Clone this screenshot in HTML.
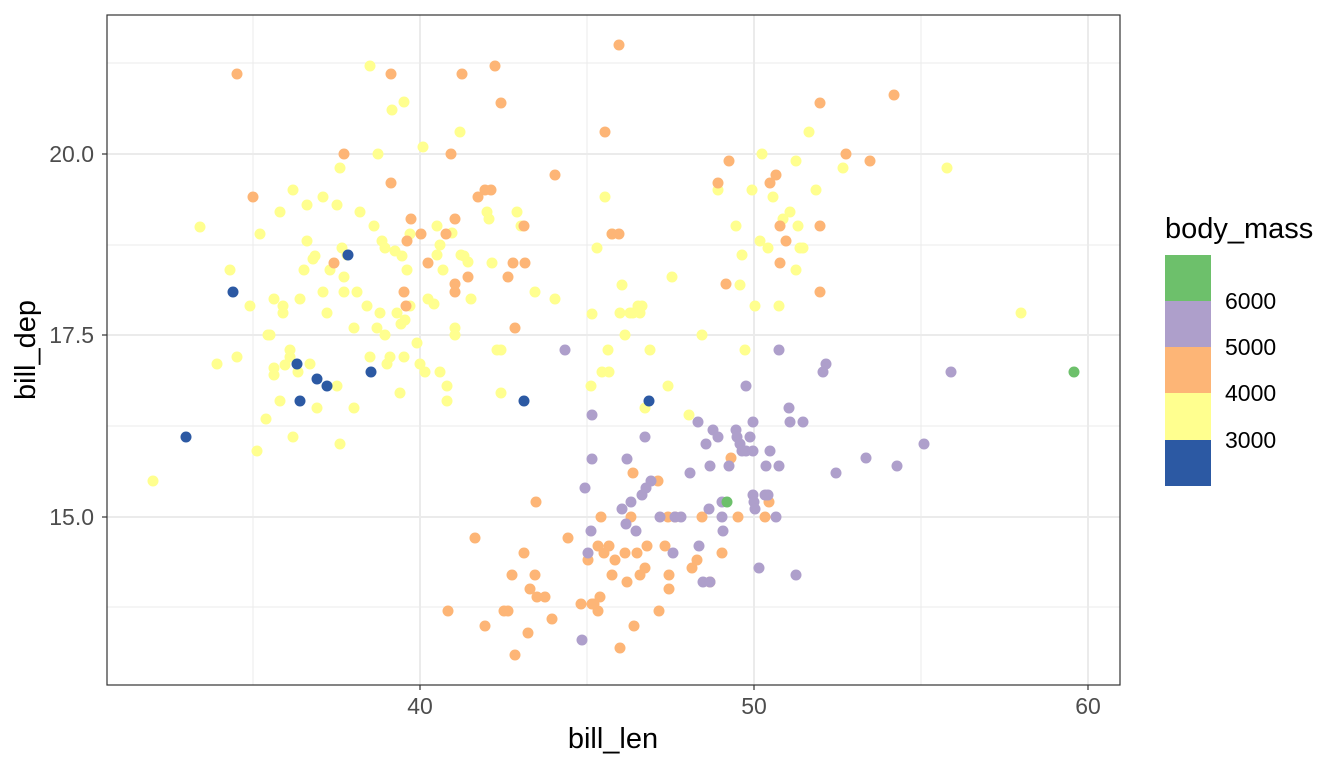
<!DOCTYPE html>
<html><head><meta charset="utf-8"><style>
html,body{margin:0;padding:0;background:#fff;width:1344px;height:768px;overflow:hidden}
text{font-family:"Liberation Sans",sans-serif}
</style></head><body>
<svg id="s" width="1344" height="768" xmlns="http://www.w3.org/2000/svg">
<rect x="0" y="0" width="1344" height="768" fill="#fff"/>
<g stroke="#EBEBEB" stroke-width="1">
<line x1="253" y1="15" x2="253" y2="685"/><line x1="587" y1="15" x2="587" y2="685"/><line x1="921" y1="15" x2="921" y2="685"/>
<line x1="107" y1="63" x2="1120" y2="63"/><line x1="107" y1="245" x2="1120" y2="245"/><line x1="107" y1="426" x2="1120" y2="426"/><line x1="107" y1="607" x2="1120" y2="607"/>
</g>
<g stroke="#EBEBEB" stroke-width="2">
<line x1="420" y1="15" x2="420" y2="685"/><line x1="754" y1="15" x2="754" y2="685"/><line x1="1088" y1="15" x2="1088" y2="685"/>
<line x1="107" y1="154" x2="1120" y2="154"/><line x1="107" y1="335" x2="1120" y2="335"/><line x1="107" y1="517" x2="1120" y2="517"/>
</g>
<g id="pts"></g>
<rect x="107" y="15" width="1013" height="670" fill="none" stroke="#333" stroke-width="1.2"/>
<g stroke="#333" stroke-width="1.2">
<line x1="420" y1="685" x2="420" y2="690"/><line x1="754" y1="685" x2="754" y2="690"/><line x1="1088" y1="685" x2="1088" y2="690"/>
<line x1="102" y1="154" x2="107" y2="154"/><line x1="102" y1="335" x2="107" y2="335"/><line x1="102" y1="517" x2="107" y2="517"/>
</g>
<g font-size="23" fill="#4D4D4D">
<text x="420" y="714" text-anchor="middle">40</text><text x="754" y="714" text-anchor="middle">50</text><text x="1088" y="714" text-anchor="middle">60</text>
<text x="94" y="162" text-anchor="end">20.0</text><text x="94" y="343" text-anchor="end">17.5</text><text x="94" y="525" text-anchor="end">15.0</text>
</g>
<text x="613" y="748" font-size="29" text-anchor="middle" fill="#000">bill_len</text>
<text transform="translate(35,350) rotate(-90)" font-size="29" text-anchor="middle" fill="#000">bill_dep</text>
<text x="1165" y="238" font-size="29" fill="#000">body_mass</text>
<rect x="1165" y="255" width="46" height="46" fill="#6DC06B"/>
<rect x="1165" y="301" width="46" height="46" fill="#AE9FCB"/>
<rect x="1165" y="347" width="46" height="46" fill="#FDB576"/>
<rect x="1165" y="393" width="46" height="47" fill="#FFFF8F"/>
<rect x="1165" y="440" width="46" height="46" fill="#2C59A3"/>
<g font-size="23" fill="#000">
<text x="1225" y="309">6000</text><text x="1225" y="355">5000</text><text x="1225" y="401">4000</text><text x="1225" y="448">3000</text>
</g>
</svg>
<script>
var C={b:"#2C59A3",g:"#6DC06B",y:"#FFFF8F",o:"#FDB576",p:"#AE9FCB"};
var D={
y:[153,481,200,227,217,364,230,270,237,357,250,306,257,451,260,234,266,419,268,335,270,335,274,299,274,368,274,375,280,401,280,212,283,306,283,313,285,365,290,350,290,357,293,190,293,437,298,372,300,299,304,270,307,205,307,241,310,364,313,259,315,256,317,408,323,197,323,292,327,313,330,270,337,205,337,386,340,168,340,444,342,248,344,277,344,292,347,255,354,328,354,408,357,292,360,212,367,306,370,357,370,66,374,226,377,328,378,154,380,313,382,241,385,248,387,364,390,357,385,335,392,110,395,251,397,313,400,393,401,324,402,256,404,102,404,357,405,320,407,270,410,234,410,306,417,343,420,364,423,147,425,372,428,299,434,304,437,226,437,255,440,245,440,372,443,270,447,386,447,401,452,233,455,328,455,335,460,132,461,255,464,256,468,262,471,299,487,212,489,219,492,263,497,350,501,350,501,393,517,212,521,226,535,292,555,299,591,386,592,314,597,248,602,372,605,197,608,350,609,372,612,234,620,313,622,285,625,335,630,313,633,313,638,306,640,313,642,306,645,408,650,350,668,386,672,277,689,415,702,335,718,190,736,226,740,285,742,255,745,350,752,190,755,306,760,241,762,154,768,248,773,197,779,306,783,219,790,212,796,270,798,226,800,248,803,248,809,132,816,190,796,161,843,168,947,168,1021,313],
o:[237,74,253,197,344,154,334,263,391,74,391,183,404,292,406,306,407,241,411,219,421,234,428,263,446,234,451,154,455,219,455,284,455,292,462,74,468,277,478,197,485,190,491,190,495,66,501,103,508,277,513,263,515,328,524,226,525,263,555,175,605,132,612,234,619,234,619,45,894,95,820,103,846,154,870,161,729,161,718,183,770,183,776,175,780,226,786,241,780,263,820,226,820,292,726,284,536,502,448,611,475,538,485,626,504,611,508,611,512,575,515,655,524,553,528,633,530,589,535,575,537,597,545,597,552,619,568,538,581,604,588,560,592,604,594,604,598,611,600,597,598,546,601,517,604,553,609,546,612,575,615,560,620,648,625,553,627,582,631,517,633,473,634,626,637,553,640,575,645,568,647,546,658,481,659,611,665,546,668,517,669,575,669,589,675,517,692,568,697,560,702,517,710,582,722,553,731,458,738,517,765,517,769,502],
p:[565,350,582,640,585,488,588,553,591,531,592,415,592,459,622,509,626,524,627,459,631,502,636,531,642,495,645,437,646,488,651,481,660,517,675,517,681,517,673,553,690,473,698,422,699,546,703,582,706,444,709,509,710,582,710,466,713,430,718,437,722,502,722,517,723,531,729,466,736,430,737,437,740,444,742,451,746,451,746,386,750,437,753,422,753,495,754,502,755,509,753,451,759,568,765,495,766,466,768,495,770,451,776,517,779,466,779,350,789,408,790,422,803,422,796,575,823,372,826,364,836,473,866,458,897,466,924,444,951,372],
b:[186,437,233,292,297,364,300,401,317,379,327,386,348,255,371,372,524,401,649,401],
g:[1074,372,727,502]};
var h="",o=["y","o","p","b","g"];
o.forEach(function(k){var a=D[k];for(var i=0;i<a.length;i+=2)h+='<circle cx="'+a[i]+'" cy="'+a[i+1]+'" r="5.5" fill="'+C[k]+'"/>';});
document.getElementById("pts").innerHTML=h;
</script>
</body></html>
